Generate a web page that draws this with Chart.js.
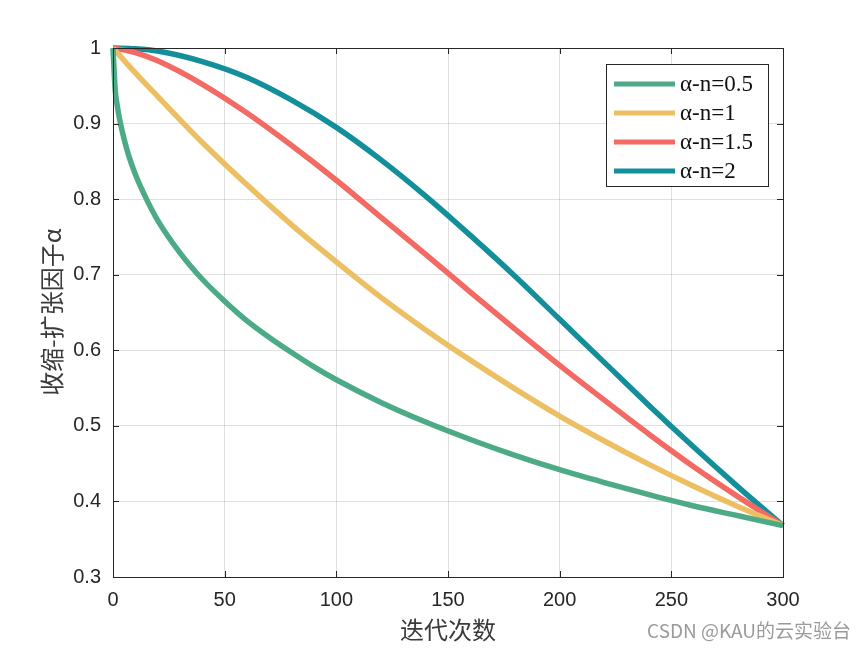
<!DOCTYPE html>
<html>
<head>
<meta charset="utf-8">
<script src="https://cdn.jsdelivr.net/npm/chart.js@4.4.1/dist/chart.umd.min.js"></script>
<style>
  html, body { margin: 0; padding: 0; background: #fff; }
  #wrap { width: 865px; height: 649px; }
</style>
</head>
<body>
<div id="wrap"><canvas id="alphaChart"></canvas></div>
<script>
// 迭代次数 (x) 与各曲线读数
const iterN05 = [0, 1, 2, 3, 5, 7, 10, 15, 20, 30, 40, 50, 60, 70, 80, 90, 100, 120, 140, 160, 180, 200, 220, 240, 260, 280, 300];
const alphaN05 = [1, 0.944, 0.922, 0.905, 0.879, 0.858, 0.833, 0.800, 0.772, 0.729, 0.694, 0.665, 0.639, 0.617, 0.597, 0.578, 0.561, 0.531, 0.505, 0.482, 0.461, 0.442, 0.425, 0.409, 0.394, 0.381, 0.368];

const iterAll = [0, 10, 20, 40, 60, 80, 100, 120, 140, 160, 180, 200, 220, 240, 260, 280, 300];
const alphaN1 = [1, 0.967, 0.936, 0.875, 0.819, 0.766, 0.717, 0.670, 0.627, 0.587, 0.549, 0.513, 0.480, 0.449, 0.420, 0.393, 0.368];
const alphaN15 = [1, 0.994, 0.983, 0.952, 0.914, 0.871, 0.825, 0.776, 0.727, 0.677, 0.628, 0.580, 0.534, 0.489, 0.446, 0.406, 0.368];
const alphaN2 = [1, 0.999, 0.996, 0.982, 0.961, 0.931, 0.895, 0.852, 0.804, 0.752, 0.698, 0.641, 0.584, 0.527, 0.472, 0.419, 0.368];

const seriesLabels = ['α-n=0.5', 'α-n=1', 'α-n=1.5', 'α-n=2'];
const seriesColors = ['#4caa86', '#edbf63', '#f26a63', '#138f9b'];

const xTicks = [0, 50, 100, 150, 200, 250, 300];
const yTicks = [0.3, 0.4, 0.5, 0.6, 0.7, 0.8, 0.9, 1];

function toPoints(xs, ys) {
    return xs.map((x, i) => ({ x: x, y: ys[i] }));
}

// 边框、内向刻度、图例、轴标题
const matlabStyle = {
    id: 'matlabStyle',
    afterDatasetsDraw(chart) {
        const ctx = chart.ctx;
        const a = chart.chartArea;
        const xs = chart.scales.x, ys = chart.scales.y;
        ctx.save();
        ctx.strokeStyle = '#262626';
        ctx.lineWidth = 1;
        ctx.beginPath();
        xTicks.forEach(v => {
            const px = Math.round(xs.getPixelForValue(v)) + 0.5;
            ctx.moveTo(px, a.bottom); ctx.lineTo(px, a.bottom - 6);
            ctx.moveTo(px, a.top); ctx.lineTo(px, a.top + 6);
        });
        yTicks.forEach(v => {
            const py = Math.round(ys.getPixelForValue(v)) + 0.5;
            ctx.moveTo(a.left, py); ctx.lineTo(a.left + 6, py);
            ctx.moveTo(a.right, py); ctx.lineTo(a.right - 6, py);
        });
        ctx.stroke();
        ctx.strokeRect(Math.round(a.left) + 0.5, Math.round(a.top) + 0.5, Math.round(a.right - a.left), Math.round(a.bottom - a.top));

        // 图例
        const lx = 606, ly = 64, lw = 162, lh = 122;
        ctx.fillStyle = '#fff';
        ctx.fillRect(lx, ly, lw, lh);
        ctx.strokeStyle = '#262626';
        ctx.strokeRect(lx + 0.5, ly + 0.5, lw, lh);
        ctx.font = '23px "Liberation Serif", "Times New Roman", serif';
        ctx.textBaseline = 'middle';
        chart.data.datasets.forEach((ds, i) => {
            const y = 84 + i * 29;
            ctx.strokeStyle = ds.borderColor;
            ctx.lineWidth = 5;
            ctx.beginPath();
            ctx.moveTo(614, y); ctx.lineTo(675, y);
            ctx.stroke();
            ctx.fillStyle = '#111';
            ctx.fillText(ds.label, 680, y + 1);
        });

        // 轴标题
        ctx.fillStyle = '#3a3a3a';
        ctx.font = '24px "Noto Sans CJK SC", sans-serif';
        ctx.textAlign = 'center';
        ctx.fillText('迭代次数', 448, 630);
        ctx.save();
        ctx.translate(52, 312);
        ctx.rotate(-Math.PI / 2);
        ctx.fillText('收缩-扩张因子α', 0, 0);
        ctx.restore();

        // 水印
        ctx.fillStyle = '#9a9a9a';
        ctx.font = '19px "Noto Sans CJK SC", sans-serif';
        ctx.textAlign = 'right';
        ctx.fillText('CSDN @KAU的云实验台', 851, 631);
        ctx.restore();
    }
};

const ctx = document.getElementById('alphaChart').getContext('2d');
const alphaChart = new Chart(ctx, {
    type: 'line',
    data: {
        datasets: [
            { label: seriesLabels[0], data: toPoints(iterN05, alphaN05), borderColor: seriesColors[0] },
            { label: seriesLabels[1], data: toPoints(iterAll, alphaN1), borderColor: seriesColors[1] },
            { label: seriesLabels[2], data: toPoints(iterAll, alphaN15), borderColor: seriesColors[2] },
            { label: seriesLabels[3], data: toPoints(iterAll, alphaN2), borderColor: seriesColors[3] }
        ]
    },
    options: {
        responsive: true,
        maintainAspectRatio: false,
        animation: false,
        layout: { padding: { left: 0, top: 48, right: 82, bottom: 0 } },
        elements: {
            point: { radius: 0 },
            line: { borderWidth: 5.5, cubicInterpolationMode: 'monotone', fill: false }
        },
        datasets: { line: { clip: false } },
        plugins: {
            legend: { display: false },
            tooltip: { enabled: false }
        },
        scales: {
            x: {
                type: 'linear',
                min: 0,
                max: 300,
                afterFit: s => { s.height = 72; },
                afterBuildTicks: s => { s.ticks = xTicks.map(v => ({ value: v })); },
                ticks: {
                    color: '#262626',
                    padding: 11,
                    font: { family: '"Liberation Sans", Arial, sans-serif', size: 20 }
                },
                grid: { color: 'rgba(0,0,0,0.12)', tickLength: 0, drawTicks: false },
                border: { display: false }
            },
            y: {
                min: 0.3,
                max: 1,
                afterFit: s => { s.width = 113; },
                afterBuildTicks: s => { s.ticks = yTicks.map(v => ({ value: v })); },
                ticks: {
                    color: '#262626',
                    padding: 12,
                    font: { family: '"Liberation Sans", Arial, sans-serif', size: 20 },
                    callback: v => String(Number(v.toFixed(1)))
                },
                grid: { color: 'rgba(0,0,0,0.12)', tickLength: 0, drawTicks: false },
                border: { display: false }
            }
        }
    },
    plugins: [matlabStyle]
});
</script>
</body>
</html>
